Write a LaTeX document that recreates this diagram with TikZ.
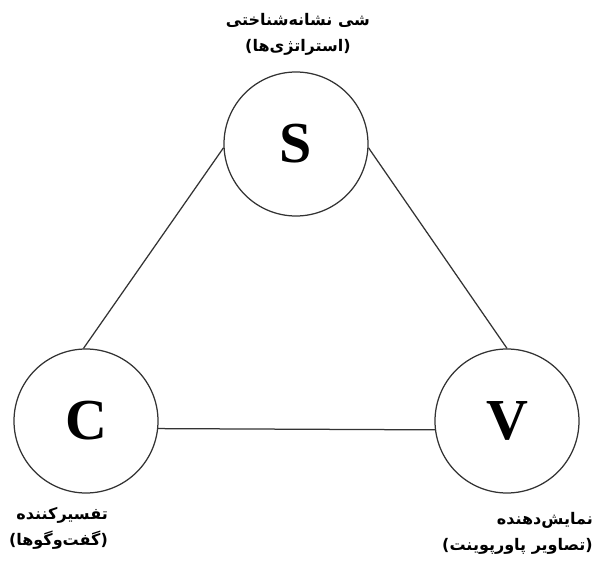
\documentclass[tikz,border=0pt]{standalone}
\usepackage{fontspec}
\setmainfont{Liberation Serif}
\newfontfamily\arabicfont[Script=Arabic]{DejaVu Sans}
\TeXXeTstate=1
\usepackage{tikz}
\usetikzlibrary{positioning}
\definecolor{edgegray}{HTML}{333333}

\begin{document}
\begin{tikzpicture}[
		x=1pt, y=-1pt,
		vertex/.style={circle, draw=edgegray, line width=1.25pt, minimum size=144pt,
			inner sep=0pt, font=\fontsize{58}{58}\selectfont\bfseries},
		link/.style={draw=edgegray, line width=1.25pt},
		caption/.style={font=\arabicfont\bfseries\fontsize{16}{26}\selectfont, inner sep=0pt},
		]
		\useasboundingbox (0,0) rectangle (605,565);

		% Vertices
		\node[vertex] (s) at (296,144) {S};
		\node[vertex] (c) at (86,421) {C};
		\node[vertex] (v) at (507,421) {V};

		% Edges
		\draw[link] (s.183) -- (c.92);
		\draw[link] (s.-3) -- (v.90);
		\draw[link] (c.-6.4) -- (v.-173.6);

		% Captions
		\node[caption, align=center] (sl) at (298,34)
		{\beginR شی نشانه^^^^200cشناختی\endR\\\beginR (استراتژی^^^^200cها)\endR};
		\node[caption, align=right, anchor=east] (cl) at (108,528)
		{\beginR تفسیرکننده\endR\\\beginR (گفت^^^^200cوگوها)\endR};
		\node[caption, align=right, anchor=east] (vl) at (593,533)
		{\beginR نمایش^^^^200cدهنده\endR\\\beginR (تصاویر پاورپوینت)\endR};
	\end{tikzpicture}
\end{document}
